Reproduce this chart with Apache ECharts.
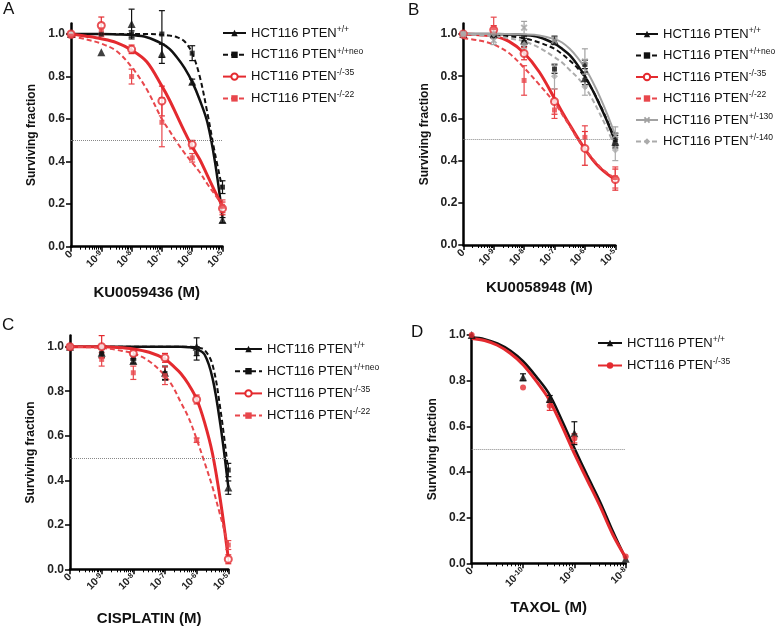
<!DOCTYPE html>
<html><head><meta charset="utf-8">
<script src="https://cdn.jsdelivr.net/npm/echarts@6/dist/echarts.min.js"></script>
<style>html,body{margin:0;padding:0;background:#fff}#c{width:778px;height:629px}</style>
</head><body><div id="c"></div>
<script>
// ===================== DATA =====================
// x values are log10 of molar concentration; the leftmost value is the "0" (untreated) position
const yTicks = [0, 0.2, 0.4, 0.6, 0.8, 1.0];
const xTicksABC = [-10, -9, -8, -7, -6, -5];
const xTicksD = [-11, -10, -9, -8];
const doseABC = [-10, -9, -8, -7, -6, -5];
const doseD = [-11, -10, -9.48, -9, -8];
const curveXABC = [-10, -9.5, -9, -8.5, -8, -7.5, -7, -6.75, -6.5, -6.25, -6, -5.75, -5.5, -5.25, -5];
const curveXD = [-11, -10.75, -10.5, -10.25, -10, -9.75, -9.5, -9.25, -9, -8.75, -8.5, -8.25, -8];
const axisTitles = ['KU0059436 (M)', 'KU0058948 (M)', 'CISPLATIN (M)', 'TAXOL (M)'];
const panelLetters = ['A', 'B', 'C', 'D'];
const legendBase = 'HCT116 PTEN';

// Panel A : KU0059436
const aWtPts   = [1.0, 0.914, 1.047, 0.907, 0.776, 0.125];
const aWtErr   = [0, 0, 0.07, 0.045, 0.012, 0.012];
const aNeoPts  = [1.0, 1.0, 1.0, 1.0, 0.91, 0.28];
const aNeoErr  = [0, 0, 0.015, 0.11, 0.035, 0.03];
const a35Pts   = [1.0, 1.04, 0.928, 0.685, 0.48, 0.18];
const a35Err   = [0, 0.04, 0.02, 0.07, 0.02, 0.03];
const a22Pts   = [0.99, 1.02, 0.80, 0.585, 0.418, 0.19];
const a22Err   = [0, 0.03, 0.035, 0.115, 0.02, 0.03];
const aWtCurve  = [1.0, 1.0, 1.0, 0.998, 0.995, 0.985, 0.955, 0.93, 0.89, 0.84, 0.775, 0.69, 0.585, 0.40, 0.14];
const aNeoCurve = [1.0, 1.0, 1.0, 1.0, 1.0, 1.0, 0.997, 0.993, 0.985, 0.965, 0.91, 0.80, 0.63, 0.44, 0.27];
const a35Curve  = [1.0, 0.99, 0.978, 0.96, 0.925, 0.87, 0.755, 0.69, 0.615, 0.54, 0.47, 0.41, 0.335, 0.26, 0.19];
const a22Curve  = [0.99, 0.975, 0.955, 0.92, 0.845, 0.74, 0.60, 0.545, 0.49, 0.44, 0.395, 0.35, 0.295, 0.245, 0.195];

// Panel B : KU0058948
const bWtPts   = [1.0, 1.0, 0.97, 0.97, 0.79, 0.49];
const bWtErr   = [0, 0.01, 0.02, 0.02, 0.03, 0.03];
const bNeoPts  = [1.0, 0.99, 0.96, 0.834, 0.856, 0.50];
const bNeoErr  = [0, 0.01, 0.02, 0.02, 0.02, 0.03];
const b35Pts   = [1.0, 1.02, 0.908, 0.68, 0.458, 0.31];
const b35Err   = [0, 0.02, 0.03, 0.06, 0.08, 0.05];
const b22Pts   = [0.99, 1.03, 0.78, 0.64, 0.51, 0.32];
const b22Err   = [0, 0.05, 0.07, 0.04, 0.055, 0.05];
const b130Pts  = [1.0, 0.97, 1.03, 0.97, 0.87, 0.52];
const b130Err  = [0, 0.02, 0.03, 0.015, 0.06, 0.04];
const b140Pts  = [1.0, 1.0, 0.95, 0.80, 0.75, 0.45];
const b140Err  = [0, 0.02, 0.02, 0.06, 0.04, 0.05];
const bWtCurve  = [1.0, 1.0, 1.0, 0.998, 0.995, 0.985, 0.955, 0.93, 0.90, 0.855, 0.80, 0.735, 0.66, 0.58, 0.49];
const bNeoCurve = [1.0, 0.998, 0.995, 0.99, 0.98, 0.96, 0.93, 0.905, 0.875, 0.84, 0.795, 0.735, 0.665, 0.585, 0.50];
const b35Curve  = [1.0, 0.997, 0.99, 0.965, 0.91, 0.82, 0.695, 0.63, 0.57, 0.51, 0.455, 0.405, 0.365, 0.335, 0.31];
const b22Curve  = [0.98, 0.97, 0.95, 0.91, 0.84, 0.76, 0.675, 0.62, 0.565, 0.505, 0.455, 0.41, 0.37, 0.34, 0.315];
const b130Curve = [1.0, 1.0, 1.0, 1.0, 0.998, 0.993, 0.976, 0.96, 0.93, 0.89, 0.84, 0.775, 0.70, 0.615, 0.52];
const b140Curve = [1.0, 0.995, 0.99, 0.98, 0.965, 0.935, 0.89, 0.865, 0.83, 0.795, 0.75, 0.69, 0.62, 0.545, 0.46];

// Panel C : CISPLATIN
const cWtPts   = [1.0, 0.973, 0.936, 0.883, 1.0, 0.367];
const cWtErr   = [0, 0.02, 0.01, 0.03, 0.04, 0.03];
const cNeoPts  = [1.0, 0.97, 0.95, 0.88, 0.97, 0.446];
const cNeoErr  = [0, 0.02, 0.01, 0.03, 0.03, 0.03];
const c35Pts   = [1.0, 1.0, 0.97, 0.95, 0.763, 0.045];
const c35Err   = [0, 0.05, 0.01, 0.02, 0.02, 0.02];
const c22Pts   = [1.0, 0.943, 0.883, 0.87, 0.58, 0.109];
const c22Err   = [0, 0.03, 0.03, 0.04, 0.01, 0.02];
const cWtCurve  = [1.0, 1.0, 1.0, 1.0, 1.0, 1.0, 1.0, 1.0, 1.0, 0.998, 0.99, 0.965, 0.86, 0.65, 0.37];
const cNeoCurve = [1.0, 1.0, 1.0, 1.0, 1.0, 1.0, 1.0, 1.0, 1.0, 1.0, 0.998, 0.985, 0.92, 0.72, 0.44];
const c35Curve  = [1.0, 1.0, 1.0, 0.997, 0.99, 0.975, 0.945, 0.915, 0.88, 0.83, 0.765, 0.66, 0.52, 0.31, 0.05];
const c22Curve  = [1.0, 0.998, 0.995, 0.985, 0.97, 0.935, 0.87, 0.82, 0.75, 0.68, 0.585, 0.48, 0.37, 0.24, 0.11];

// Panel D : TAXOL
const dWtPts   = [1.0, 0.815, 0.72, 0.57, 0.02];
const dWtErr   = [0, 0.015, 0.015, 0.05, 0];
const d35Pts   = [1.0, 0.77, 0.69, 0.547, 0.03];
const d35Err   = [0, 0, 0.02, 0.02, 0];
const dWtCurve = [0.99, 0.982, 0.963, 0.932, 0.885, 0.82, 0.745, 0.63, 0.505, 0.385, 0.27, 0.14, 0.02];
const d35Curve = [0.985, 0.976, 0.955, 0.92, 0.87, 0.80, 0.72, 0.605, 0.48, 0.365, 0.25, 0.125, 0.025];

// ===================== STYLE / LAYOUT =====================
const FONT = "'Liberation Sans', Arial, Helvetica, sans-serif";
const BLACK = '#111111', RED = '#e42a2f', RED2 = '#e8474c', GRAY = '#a2a2a2', GRAY2 = '#ababab';
const XPATH = 'path://M2,0 L5,3 L8,0 L10,2 L7,5 L10,8 L8,10 L5,7 L2,10 L0,8 L3,5 L0,2 Z';
const ST = {
  wt:   {color: BLACK, type: 'solid',  width: 2.5, symbol: 'triangle', size: 8},
  neo:  {color: BLACK, type: [5, 3],   width: 2,   symbol: 'rect',     size: 5},
  k35:  {color: RED,   type: 'solid',  width: 3,   symbol: 'emptyCircle', size: 7},
  k22:  {color: RED2,  type: [5, 3],   width: 2,   symbol: 'rect',     size: 5},
  h130: {color: GRAY,  type: 'solid',  width: 2,   symbol: XPATH,      size: 7},
  h140: {color: GRAY2, type: [5, 3],   width: 2,   symbol: 'diamond',  size: 7},
  k35f: {color: RED,   type: 'solid',  width: 3,   symbol: 'circle',   size: 6}
};
const panels = [
  {grid: {left: 71, top: 23.4, width: 151.5, height: 223.3}, xmin: -10, xmax: -5, ymax: 1.05, ticks: xTicksABC,
   legend: {left: 222, top: 25, itemWidth: 23, itemGap: 7.3},
   dose: doseABC, cx: curveXABC, nameGap: 39, letter: {left: 3, top: 1},
   lines: [['wt', '+/+', aWtCurve, aWtPts, aWtErr], ['neo', '+/+neo', aNeoCurve, aNeoPts, aNeoErr],
           ['k35', '-/-35', a35Curve, a35Pts, a35Err], ['k22', '-/-22', a22Curve, a22Pts, a22Err]]},
  {grid: {left: 463.3, top: 23.5, width: 152, height: 221.5}, xmin: -10, xmax: -5, ymax: 1.05, ticks: xTicksABC,
   legend: {left: 635, top: 26, itemWidth: 22, itemGap: 7},
   dose: doseABC, cx: curveXABC, nameGap: 35, letter: {left: 408, top: 2},
   lines: [['wt', '+/+', bWtCurve, bWtPts, bWtErr], ['neo', '+/+neo', bNeoCurve, bNeoPts, bNeoErr],
           ['k35', '-/-35', b35Curve, b35Pts, b35Err], ['k22', '-/-22', b22Curve, b22Pts, b22Err],
           ['h130', '+/-130', b130Curve, b130Pts, b130Err], ['h140', '+/-140', b140Curve, b140Pts, b140Err]]},
  {grid: {left: 70, top: 335.6, width: 158.3, height: 233.7}, xmin: -10, xmax: -5, ymax: 1.05, ticks: xTicksABC,
   legend: {left: 234, top: 341, itemWidth: 27, itemGap: 7.7},
   dose: doseABC, cx: curveXABC, nameGap: 42, letter: {left: 2, top: 317},
   lines: [['wt', '+/+', cWtCurve, cWtPts, cWtErr], ['neo', '+/+neo', cNeoCurve, cNeoPts, cNeoErr],
           ['k35', '-/-35', c35Curve, c35Pts, c35Err], ['k22', '-/-22', c22Curve, c22Pts, c22Err]]},
  {grid: {left: 471.7, top: 335, width: 154, height: 228.3}, xmin: -11, xmax: -8, ymax: 1.0, ticks: xTicksD,
   legend: {left: 597, top: 335, itemWidth: 24, itemGap: 8},
   dose: doseD, cx: curveXD, nameGap: 37, letter: {left: 411, top: 324},
   lines: [['wt', '+/+', dWtCurve, dWtPts, dWtErr], ['k35f', '-/-35', d35Curve, d35Pts, d35Err]]}
];

// ===================== BUILD OPTION =====================
const grids = [], xAxes = [], yAxes = [], series = [], legends = [], titles = [];
const supMap = {};
panels.forEach((p, gi) => {
  grids.push(Object.assign({containLabel: false, outerBoundsMode: 'none'}, p.grid));
  titles.push({text: panelLetters[gi], left: p.letter.left, top: p.letter.top, padding: 0,
    textStyle: {fontFamily: FONT, fontSize: 17, fontWeight: 'normal', color: '#111'}});
  const minors = [];
  for (let n = p.xmin; n < p.xmax; n++) for (let k = 2; k <= 9; k++) minors.push(n + Math.log10(k));
  const xmin = p.xmin;
  xAxes.push({type: 'value', gridIndex: gi, min: p.xmin, max: p.xmax, position: 'bottom',
    axisLine: {show: true, onZero: false, lineStyle: {color: '#000', width: 2.5}},
    axisTick: {show: true, customValues: p.ticks, length: 5, lineStyle: {color: '#000', width: 1.5}},
    axisLabel: {customValues: p.ticks, rotate: 45, margin: 6,
      formatter: v => v === xmin ? '{b|0}' : '{b|10}{s|' + v + '}',
      rich: {b: {fontFamily: FONT, fontSize: 10.5, fontWeight: 'bold', color: '#222'},
             s: {fontFamily: FONT, fontSize: 7.5, fontWeight: 'bold', color: '#222', verticalAlign: 'top', lineHeight: 9}}},
    splitLine: {show: false},
    name: axisTitles[gi], nameLocation: 'middle', nameGap: p.nameGap,
    nameTextStyle: {fontFamily: FONT, fontSize: 15, fontWeight: 'bold', color: '#111'}});
  xAxes.push({type: 'value', gridIndex: gi, min: p.xmin, max: p.xmax, position: 'bottom',
    axisLine: {show: false, onZero: false}, axisLabel: {show: false}, splitLine: {show: false},
    axisTick: {show: true, customValues: minors, length: 3, lineStyle: {color: '#000', width: 1}}});
  yAxes.push({type: 'value', gridIndex: gi, min: 0, max: p.ymax,
    axisLine: {show: true, onZero: false, lineStyle: {color: '#000', width: 2.5}},
    axisTick: {show: true, customValues: yTicks, length: 5, lineStyle: {color: '#000', width: 1.5}},
    axisLabel: {customValues: yTicks, formatter: v => v.toFixed(1), margin: 6,
      fontFamily: FONT, fontSize: 12, fontWeight: 'bold', color: '#222'},
    splitLine: {show: false},
    name: 'Surviving fraction', nameLocation: 'middle', nameGap: 33,
    nameTextStyle: {fontFamily: FONT, fontSize: 12, fontWeight: 'bold', color: '#111'}});
  const names = [];
  p.lines.forEach((ln, li) => {
    const [key, sup, curve, pts, err] = ln;
    const st = ST[key];
    const name = panelLetters[gi] + li;
    names.push(name); supMap[name] = sup;
    const s = {type: 'line', name, xAxisIndex: gi * 2, yAxisIndex: gi, z: 2,
      data: p.cx.map((x, i) => [x, curve[i]]),
      smooth: 0.35, showSymbol: false, symbol: st.symbol, symbolSize: st.size,
      lineStyle: {color: st.color, width: st.width, type: st.type},
      itemStyle: {color: st.color}, silent: true, animation: false};
    if (li === 0) s.markLine = {silent: true, symbol: 'none', animation: false, label: {show: false},
      lineStyle: {type: 'dotted', color: '#888', width: 1}, data: [{yAxis: 0.5}]};
    series.push(s);
    series.push({type: 'custom', name: name + 'e', xAxisIndex: gi * 2, yAxisIndex: gi, z: 3, silent: true, animation: false,
      data: p.dose.map((x, i) => [x, pts[i], err[i]]),
      renderItem: (params, api) => {
        const x = api.value(0), y = api.value(1), e = api.value(2);
        if (!e) return null;
        const t = api.coord([x, y + e]), b = api.coord([x, y - e]), w = 3;
        const ls = {stroke: st.color, lineWidth: 1.2};
        return {type: 'group', children: [
          {type: 'line', shape: {x1: t[0], y1: t[1], x2: b[0], y2: b[1]}, style: ls},
          {type: 'line', shape: {x1: t[0] - w, y1: t[1], x2: t[0] + w, y2: t[1]}, style: ls},
          {type: 'line', shape: {x1: b[0] - w, y1: b[1], x2: b[0] + w, y2: b[1]}, style: ls}]};
      }});
    series.push({type: 'scatter', name: name + 'p', xAxisIndex: gi * 2, yAxisIndex: gi, z: 4, silent: true, animation: false,
      data: p.dose.map((x, i) => [x, pts[i]]), symbol: st.symbol, symbolSize: st.size,
      itemStyle: st.symbol === 'emptyCircle' ? {color: st.color, borderWidth: 1.5} : {color: st.color}});
  });
  legends.push({orient: 'vertical', left: p.legend.left, top: p.legend.top, padding: 0,
    itemWidth: p.legend.itemWidth, itemHeight: 8, itemGap: p.legend.itemGap, selectedMode: false,
    data: names, formatter: n => '{t|' + legendBase + '}{s|' + supMap[n] + '}',
    textStyle: {rich: {t: {fontFamily: FONT, fontSize: 13, color: '#111', lineHeight: 16},
                       s: {fontFamily: FONT, fontSize: 8.5, color: '#111', verticalAlign: 'top', lineHeight: 11}}}});
});

const chart = echarts.init(document.getElementById('c'), null, {renderer: 'canvas'});
chart.setOption({backgroundColor: '#fff', animation: false, title: titles, grid: grids,
  xAxis: xAxes, yAxis: yAxes, legend: legends, series});
</script></body></html>
